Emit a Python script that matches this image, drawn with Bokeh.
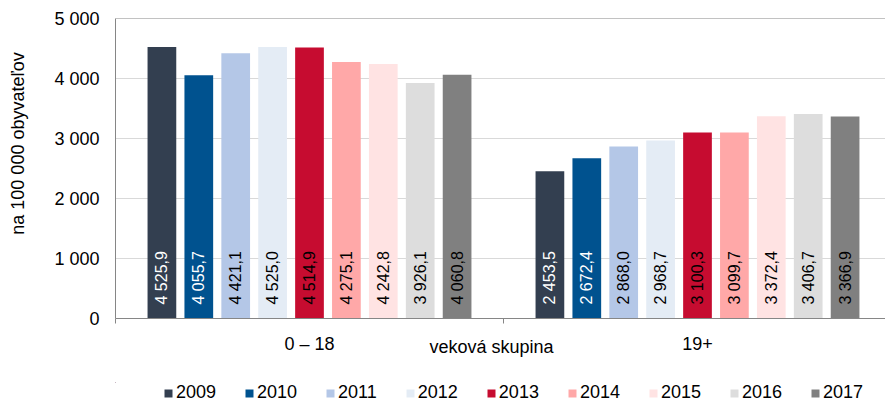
import math
from bokeh.plotting import figure
from bokeh.layouts import column
from bokeh.models import (ColumnDataSource, Range1d, FixedTicker, Legend, LegendItem,
                          Span, LinearAxis)
from bokeh.core.properties import value
from bokeh.embed import file_html
from bokeh.resources import INLINE

# ---- data ----
groups = ["0 – 18", "19+"]
years = ["2009", "2010", "2011", "2012", "2013", "2014", "2015", "2016", "2017"]
vals_0_18 = [4525.9, 4055.7, 4421.1, 4525.0, 4514.9, 4275.1, 4242.8, 3926.1, 4060.8]
vals_19 = [2453.5, 2672.4, 2868.0, 2968.7, 3100.3, 3099.7, 3372.4, 3406.7, 3366.9]
colors = ["#333F50", "#00528F", "#B4C7E7", "#E4ECF5", "#C60C30",
          "#FFA8A8", "#FFE3E3", "#DDDDDD", "#808080"]
label_colors = ["white", "white", "black", "black", "black",
                "black", "black", "black", "black"]
y_ticks = [0, 1000, 2000, 3000, 4000, 5000]
y_tick_labels = ["0", "1 000", "2 000", "3 000", "4 000", "5 000"]
y_title = "na 100 000 obyvateľov"
x_title = "veková skupina"

FONT = "Liberation Sans"


def fmt(v):
    s = f"{v:,.1f}"
    return s.replace(",", " ").replace(".", ",")


series = [vals_0_18, vals_19]
n = len(years)
step = 0.0951
bar_w = 0.074

p = figure(width=885, height=382, output_backend="svg", toolbar_location=None,
           x_range=Range1d(0, 770 / 388), y_range=Range1d(0, 5000),
           min_border_left=115, min_border_right=0, min_border_top=18,
           min_border_bottom=64)
p.outline_line_color = None
p.background_fill_color = "white"
p.border_fill_color = "white"

# legend strip (shares the bar data; bars lie far outside its visible range)
lf = figure(width=885, height=19, output_backend="svg", toolbar_location=None,
            x_axis_type=None, y_axis_type=None,
            x_range=Range1d(100, 101), y_range=Range1d(-20000, -10000),
            min_border_left=0, min_border_right=0, min_border_top=0,
            min_border_bottom=0)
lf.outline_line_color = None
lf.grid.visible = False
legend_items = []

for i, yr in enumerate(years):
    xs = [g + 0.5 + (i - (n - 1) / 2) * step for g in range(len(groups))]
    tops = [series[g][i] for g in range(len(groups))]
    src = ColumnDataSource(dict(x=xs, top=tops, lab=[fmt(t) for t in tops]))
    p.vbar(x="x", top="top", width=bar_w, bottom=0, source=src,
           fill_color=colors[i], line_color=None)
    p.text(x="x", y=0, text="lab", source=src, angle=math.pi / 2,
           text_align="left", text_baseline="middle", y_offset=-14,
           text_font=value(FONT), text_font_size="16px",
           text_color=label_colors[i])
    r = lf.vbar(x="x", top="top", width=bar_w, bottom=0, source=src,
                fill_color=colors[i], line_color=None)
    legend_items.append(LegendItem(label=yr, renderers=[r]))

# top border line
p.add_layout(Span(location=5000, dimension="width", line_color="#868686", line_width=1))

# y axis
p.yaxis.ticker = FixedTicker(ticks=y_ticks)
p.yaxis.major_label_overrides = {t: l for t, l in zip(y_ticks, y_tick_labels)}
p.yaxis.major_tick_out = 0
p.yaxis.major_tick_in = 0
p.yaxis.minor_tick_out = 0
p.yaxis.minor_tick_in = 0
p.yaxis.major_label_standoff = 16
p.yaxis.axis_line_color = "#868686"
p.yaxis.major_label_text_font = FONT
p.yaxis.major_label_text_font_size = "18px"
p.yaxis.major_label_text_color = "black"
p.yaxis.axis_label = "\u00a0" * 10 + y_title
p.yaxis.axis_label_standoff = 23
p.yaxis.axis_label_text_font = FONT
p.yaxis.axis_label_text_font_size = "18px"
p.yaxis.axis_label_text_font_style = "normal"
p.yaxis.axis_label_text_color = "black"

# x axis (categories)
centers = [g + 0.5 for g in range(len(groups))]
p.xaxis.ticker = FixedTicker(ticks=centers, minor_ticks=[0, 1, 2])
p.xaxis.major_label_overrides = {c: g for c, g in zip(centers, groups)}
p.xaxis.major_tick_out = 0
p.xaxis.major_tick_in = 0
p.xaxis.minor_tick_out = 5
p.xaxis.minor_tick_in = 0
p.xaxis.minor_tick_line_color = "#868686"
p.xaxis.major_label_standoff = 10
p.xaxis.axis_line_color = "#868686"
p.xaxis.major_label_text_font = FONT
p.xaxis.major_label_text_font_size = "18px"
p.xaxis.major_label_text_color = "black"

# second axis below carrying the x title
title_x = (491 - 115) / 388
tax = LinearAxis(ticker=FixedTicker(ticks=[title_x], minor_ticks=[]),
                 major_label_overrides={title_x: x_title},
                 axis_line_color=None, major_tick_line_color=None,
                 minor_tick_line_color=None, major_tick_out=0, major_tick_in=0,
                 minor_tick_out=0, minor_tick_in=0,
                 major_label_standoff=-20,
                 major_label_text_font=FONT, major_label_text_font_size="18px",
                 major_label_text_color="black")
p.add_layout(tax, "below")

p.xgrid.grid_line_color = None
p.ygrid.grid_line_color = "#D9D9D9"
p.ygrid.ticker = FixedTicker(ticks=y_ticks)

legend = Legend(items=legend_items, orientation="horizontal", location=(48, -2),
                glyph_width=10, glyph_height=10, label_standoff=3, spacing=28,
                padding=0, margin=0, label_height=18,
                label_text_font=FONT, label_text_font_size="18px",
                label_text_color="black", border_line_color=None,
                background_fill_alpha=0)
lf.add_layout(legend, "center")

open("out.html", "w").write(file_html(column(p, lf), INLINE))
